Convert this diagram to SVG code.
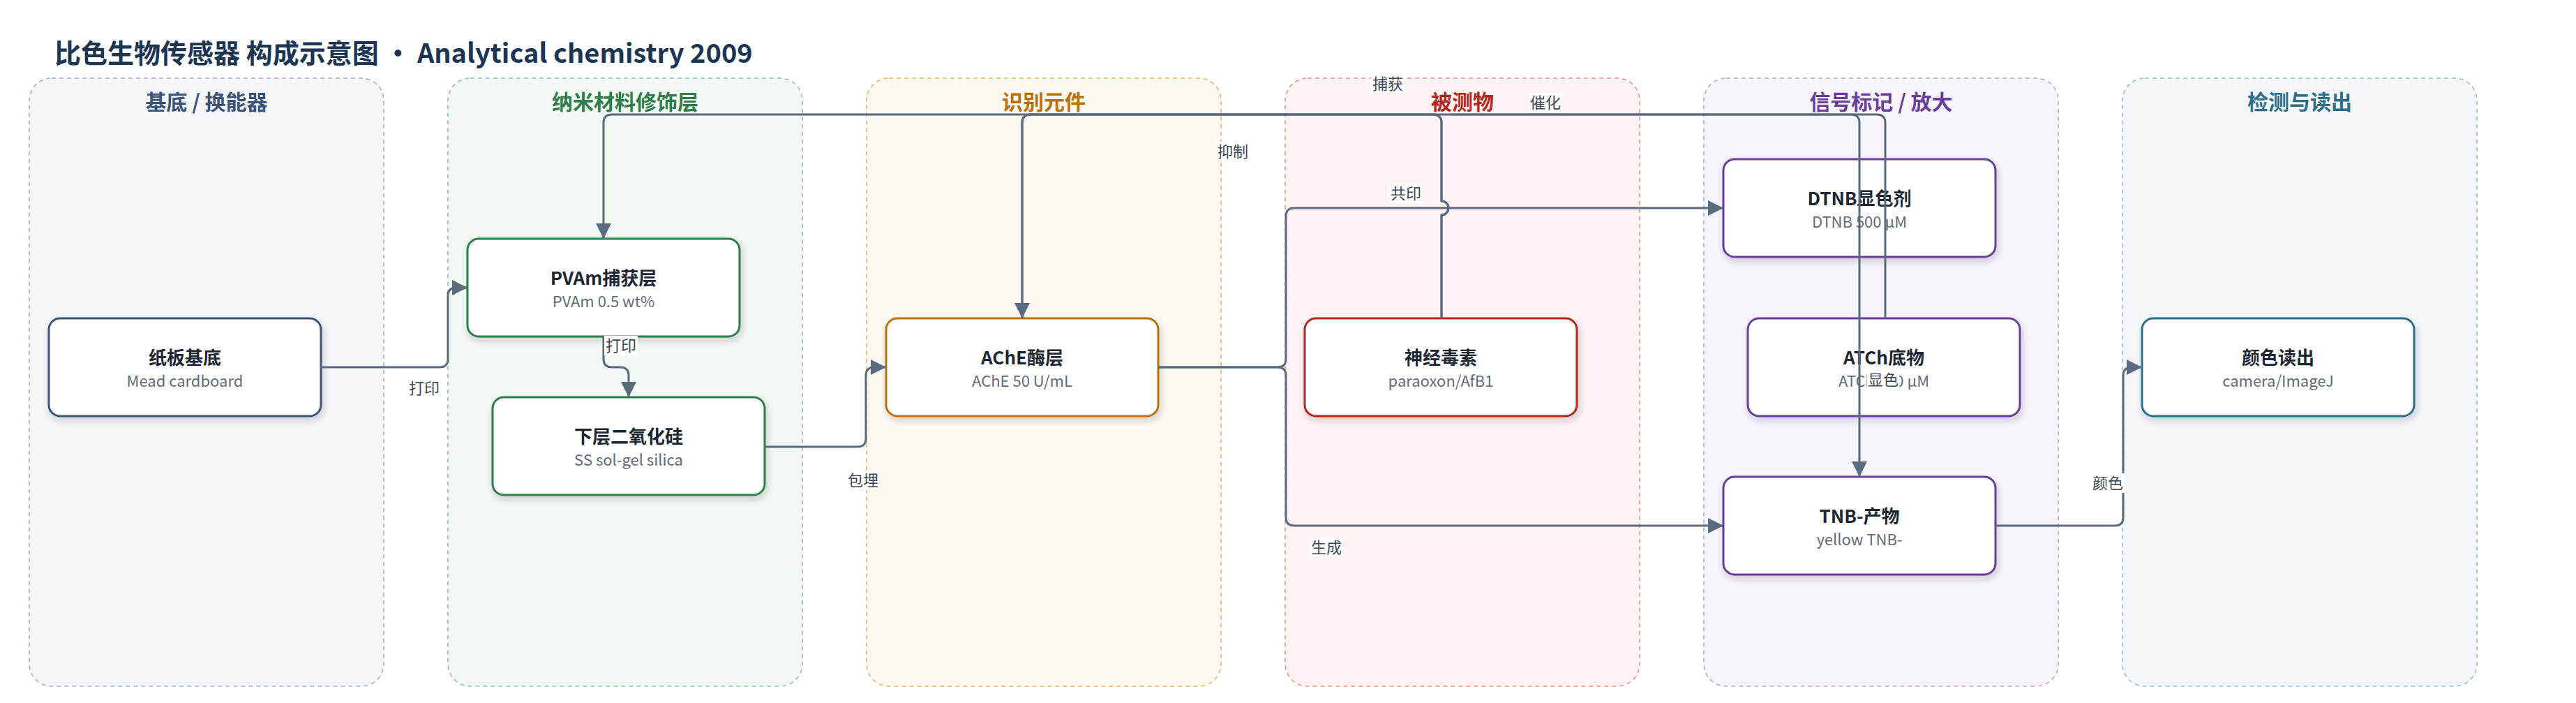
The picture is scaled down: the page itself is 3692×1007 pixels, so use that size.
<svg xmlns="http://www.w3.org/2000/svg" width="3692" height="1007" viewBox="0 0 3692 1007">
<defs>
<style>
text{font-family:"Noto Sans CJK SC","Noto Sans",sans-serif}
.title{font-size:38px;font-weight:700;fill:#1c3553}
.lane{stroke-width:1.6;stroke-dasharray:6 5}
.lt{font-size:30px;font-weight:700;text-anchor:middle}
.node{fill:#fff;stroke-width:3;filter:url(#sh)}
.nt{font-size:26px;font-weight:700;fill:#1d2633;text-anchor:middle}
.ns{font-size:22px;fill:#626b79;text-anchor:middle}
.edge{fill:none;stroke:#5b6b7f;stroke-width:3;stroke-linejoin:round}
.arr{marker-end:url(#ah)}
.lbg{fill:#fff}
.lb{font-size:22px;fill:#3e4756;text-anchor:middle}
</style>
<filter id="sh" x="-10%" y="-10%" width="120%" height="130%">
<feDropShadow dx="2" dy="5" stdDeviation="5" flood-color="#1e2a3a" flood-opacity="0.2"/>
</filter>
<marker id="ah" markerUnits="userSpaceOnUse" markerWidth="22" markerHeight="22" viewBox="0 0 20 20" refX="20" refY="10" orient="auto">
<path d="M0,0 L20,10 L0,20 Z" fill="#5b6b7f"/>
</marker>
</defs>
<rect width="3692" height="1007" fill="#fff"/>
<text class="title" x="78" y="90">比色生物传感器 构成示意图 · Analytical chemistry 2009</text>

<g id="lanes">
<g id="lane-substrate"><rect class="lane" x="42" y="112" width="508" height="871" rx="32" fill="#f5f6fa" stroke="#a3b1c6"/><text class="lt" x="296" y="157" fill="#3b5478">基底 / 换能器</text></g>
<g id="lane-nano"><rect class="lane" x="642" y="112" width="508" height="871" rx="32" fill="#f2f8f4" stroke="#97c4a6"/><text class="lt" x="896" y="157" fill="#2f7d4b">纳米材料修饰层</text></g>
<g id="lane-recog"><rect class="lane" x="1242" y="112" width="508" height="871" rx="32" fill="#fdf8f0" stroke="#e3b676"/><text class="lt" x="1496" y="157" fill="#b8720b">识别元件</text></g>
<g id="lane-analyte"><rect class="lane" x="1842" y="112" width="508" height="871" rx="32" fill="#fdf3f2" stroke="#e09690"/><text class="lt" x="2096" y="157" fill="#b5261e">被测物</text></g>
<g id="lane-signal"><rect class="lane" x="2442" y="112" width="508" height="871" rx="32" fill="#f7f4fb" stroke="#bda5da"/><text class="lt" x="2696" y="157" fill="#6a3d9a">信号标记 / 放大</text></g>
<g id="lane-readout"><rect class="lane" x="3042" y="112" width="508" height="871" rx="32" fill="#f3f7f9" stroke="#9dc0cc"/><text class="lt" x="3296" y="157" fill="#2f6e8b">检测与读出</text></g>
</g>

<g id="node-cardboard"><rect class="node" x="70" y="456" width="390" height="140" rx="16" stroke="#3b5478"/><text class="nt" x="265" y="522">纸板基底</text><text class="ns" x="265" y="554">Mead cardboard</text></g>
<g id="node-pvam"><rect class="node" x="670" y="342" width="390" height="140" rx="16" stroke="#2f7d4b"/><text class="nt" x="865" y="408">PVAm捕获层</text><text class="ns" x="865" y="440">PVAm 0.5 wt%</text></g>
<g id="node-silica"><rect class="node" x="706" y="569" width="390" height="140" rx="16" stroke="#2f7d4b"/><text class="nt" x="901" y="635">下层二氧化硅</text><text class="ns" x="901" y="667">SS sol-gel silica</text></g>
<g id="node-ache"><rect class="node" x="1270" y="456" width="390" height="140" rx="16" stroke="#b8720b"/><text class="nt" x="1465" y="522">AChE酶层</text><text class="ns" x="1465" y="554">AChE 50 U/mL</text></g>
<g id="node-toxin"><rect class="node" x="1870" y="456" width="390" height="140" rx="16" stroke="#b5261e"/><text class="nt" x="2065" y="522">神经毒素</text><text class="ns" x="2065" y="554">paraoxon/AfB1</text></g>
<g id="node-dtnb"><rect class="node" x="2470" y="228" width="390" height="140" rx="16" stroke="#6a3d9a"/><text class="nt" x="2665" y="294">DTNB显色剂</text><text class="ns" x="2665" y="326">DTNB 500 µM</text></g>
<g id="node-atch"><rect class="node" x="2505" y="456" width="390" height="140" rx="16" stroke="#6a3d9a"/><text class="nt" x="2700" y="522">ATCh底物</text><text class="ns" x="2700" y="554">ATCh 500 µM</text></g>
<g id="node-tnb"><rect class="node" x="2470" y="683" width="390" height="140" rx="16" stroke="#6a3d9a"/><text class="nt" x="2665" y="749">TNB-产物</text><text class="ns" x="2665" y="781">yellow TNB-</text></g>
<g id="node-readout"><rect class="node" x="3070" y="456" width="390" height="140" rx="16" stroke="#2f6e8b"/><text class="nt" x="3265" y="522">颜色读出</text><text class="ns" x="3265" y="554">camera/ImageJ</text></g>

<g id="connectors">
<path class="edge arr" d="M460,526 H630 Q642,526 642,514 V424 Q642,412 654,412 H670"/>
<path class="edge arr" d="M865,482 V514 Q865,526 877,526 H889 Q901,526 901,538 V569"/>
<path class="edge arr" d="M1096,640 H1229 Q1241,640 1241,628 V538 Q1241,526 1253,526 H1270"/>
<path class="edge arr" d="M1660,526 H1831 Q1843,526 1843,514 V310 Q1843,298 1855,298 H2470"/>
<path class="edge arr" d="M1660,526 H1831 Q1843,526 1843,538 V741 Q1843,753 1855,753 H2470"/>
<path class="edge arr" d="M2066,456 V308 A10,10 0 0 0 2066,288 V176 Q2066,164 2054,164 H877 Q865,164 865,176 V342"/>
<path class="edge arr" d="M2066,456 V308 A10,10 0 0 0 2066,288 V176 Q2066,164 2054,164 H1477 Q1465,164 1465,176 V456"/>
<path class="edge arr" d="M1465,456 V176 Q1465,164 1477,164 H2653 Q2665,164 2665,176 V683"/>
<path class="edge" d="M2702,456 V176 Q2702,164 2690,164 H2080"/>
<path class="edge arr" d="M2860,753 H3031 Q3043,753 3043,741 V538 Q3043,526 3055,526 H3070"/>
</g>

<g id="edge-labels">
<rect class="lbg" x="584" y="542" width="48" height="28"/><text class="lb" x="608" y="564">打印</text>
<rect class="lbg" x="866" y="481" width="48" height="28"/><text class="lb" x="890" y="503">打印</text>
<rect class="lbg" x="1213" y="674" width="48" height="28"/><text class="lb" x="1237" y="696">包埋</text>
<rect class="lbg" x="1743" y="203" width="48" height="28"/><text class="lb" x="1767" y="225">抑制</text>
<rect class="lbg" x="1965" y="106" width="48" height="28"/><text class="lb" x="1989" y="128">捕获</text>
<rect class="lbg" x="2191" y="133" width="48" height="28"/><text class="lb" x="2215" y="155">催化</text>
<rect class="lbg" x="1991" y="263" width="48" height="28"/><text class="lb" x="2015" y="285">共印</text>
<rect class="lbg" x="1877" y="770" width="48" height="28"/><text class="lb" x="1901" y="792">生成</text>
<rect class="lbg" x="2676" y="531" width="46" height="26"/><text class="lb" x="2699" y="552">显色</text>
<rect class="lbg" x="2997" y="678" width="48" height="28"/><text class="lb" x="3021" y="700">颜色</text>
</g>
</svg>
